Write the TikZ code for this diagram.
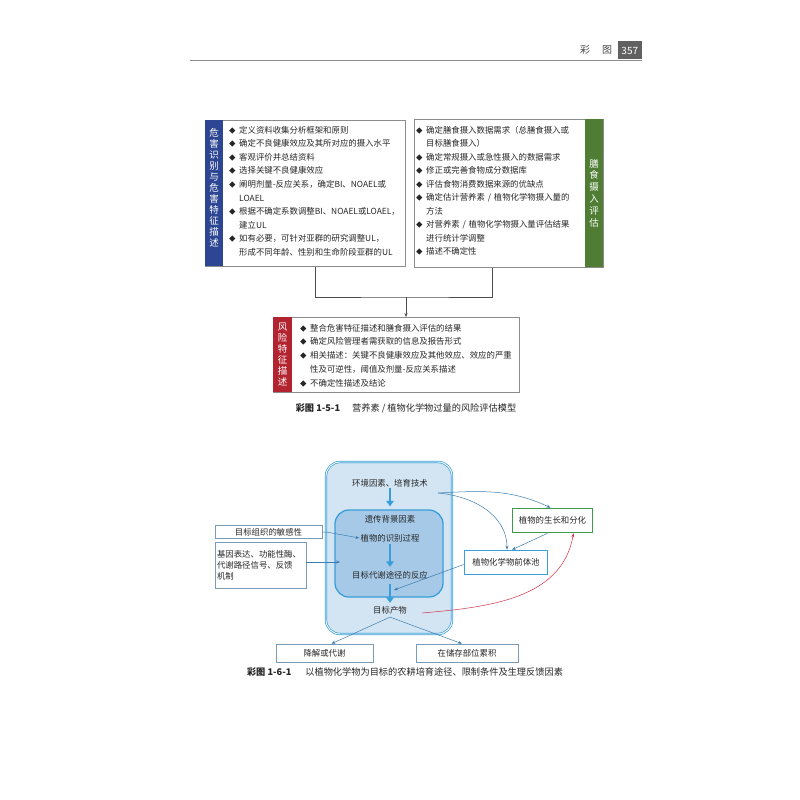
\documentclass[tikz,border=0pt]{standalone}
\usepackage{fontspec}
\setmainfont{Noto Sans CJK SC}
\usetikzlibrary{arrows.meta}
\definecolor{hblue}{HTML}{2C4693}
\definecolor{hgreen}{HTML}{4F7D33}
\definecolor{hred}{HTML}{B22430}
\definecolor{lblue}{HTML}{D3E5F3}
\definecolor{mblue}{HTML}{A5C9E7}
\definecolor{bblue}{HTML}{3A9EDB}
\definecolor{gframe}{HTML}{8C8C8C}
\definecolor{ggreen}{HTML}{3F9A50}
\definecolor{tblue}{HTML}{3D7DB0}
\definecolor{sbox}{HTML}{7A9BB8}
\definecolor{rcurve}{HTML}{D2334C}
\definecolor{txt}{HTML}{262626}
\newcommand\bul{\makebox[10pt][l]{\fontsize{6.5}{6.5}\selectfont ◆}}
\newcommand\cnt{\hspace*{10pt}}
\begin{document}
\begin{tikzpicture}[x=1pt,y=-1pt,
  every node/.style={text=txt},
  fs/.style={font=\fontsize{8.4}{10}\selectfont},
  capfs/.style={font=\fontsize{9.2}{10}\selectfont},
  frame/.style={draw=gframe,line width=0.6pt,inner sep=0pt,anchor=north west},
  vbar/.style={inner sep=0pt,anchor=north west},
  vtext/.style={text=white,align=center,inner sep=0pt,font=\fontsize{9.5}{#1}\selectfont},
  body/.style={anchor=base west,inner sep=0pt,align=left,text width=#1},
  conn/.style={draw=black!70,line width=0.5pt},
  fat/.style={draw=bblue,line width=2.6pt,-{Triangle[width=7.5pt,length=5.5pt]}},
  thin/.style={draw=tblue,line width=0.5pt,-{Stealth[length=4pt,width=3pt]}},
  sbx/.style={draw=sbox,line width=0.6pt,inner sep=0pt,fs},
  lbl/.style={inner sep=0pt,fs},
]
\useasboundingbox[fill=white] (0,0) rectangle (800,800);

% ---------- page header ----------
\draw[black!45,line width=0.6pt] (190,60) -- (642,60);
\node[fill=black!62,text=white,minimum width=24pt,minimum height=18pt,inner sep=0pt,anchor=south east,font=\fontsize{10}{10}\selectfont] (pg) at (642,59.7) {357};
\node[anchor=center,inner sep=0pt,font=\fontsize{10}{10}\selectfont,text=black!70] (hdr) at (596,50) {彩\hspace{12pt}图};

% ---------- figure 1-5-1 ----------
\node[frame,minimum width=200pt,minimum height=146pt] (lframe) at (205,120) {};
\node[vbar,fill=hblue,minimum width=18pt,minimum height=146pt] (lbar) at (205,120) {};
\node[vtext=11pt] (lbartext) at (214,188) {危\\害\\识\\别\\与\\危\\害\\特\\征\\描\\述};
\node[body=176pt,font=\fontsize{8.4}{13.6}\selectfont] (ltext) at (229,133) {%
\bul 定义资料收集分析框架和原则\\
\bul 确定不良健康效应及其所对应的摄入水平\\
\bul 客观评价并总结资料\\
\bul 选择关键不良健康效应\\
\bul 阐明剂量-反应关系，确定BI、NOAEL或\\
\cnt LOAEL\\
\bul 根据不确定系数调整BI、NOAEL或LOAEL，\\
\cnt 建立UL\\
\bul 如有必要，可针对亚群的研究调整UL，\\
\cnt 形成不同年龄、性别和生命阶段亚群的UL};

\node[frame,minimum width=189pt,minimum height=148pt] (rframe) at (414,119) {};
\node[vbar,fill=hgreen,minimum width=18pt,minimum height=148pt] (rbar) at (585,119) {};
\node[vtext=11.8pt] (rbartext) at (594,193) {膳\\食\\摄\\入\\评\\估};
\node[body=170pt,font=\fontsize{8.4}{13.55}\selectfont] (rtext) at (416,133) {%
\bul 确定膳食摄入数据需求（总膳食摄入或\\
\cnt 目标膳食摄入）\\
\bul 确定常规摄入或急性摄入的数据需求\\
\bul 修正或完善食物成分数据库\\
\bul 评估食物消费数据来源的优缺点\\
\bul 确定估计营养素 / 植物化学物摄入量的\\
\cnt 方法\\
\bul 对营养素 / 植物化学物摄入量评估结果\\
\cnt 进行统计学调整\\
\bul 描述不确定性};

\node[frame,minimum width=246pt,minimum height=75pt] (bframe) at (273,317) {};
\node[vbar,fill=hred,minimum width=19pt,minimum height=75pt] (bbar) at (273,317) {};
\node[vtext=11pt] (bbartext) at (282.5,355) {风\\险\\特\\征\\描\\述};
\node[body=215pt,font=\fontsize{8.4}{13.75}\selectfont] (btext) at (300,331) {%
\bul 整合危害特征描述和膳食摄入评估的结果\\
\bul 确定风险管理者需获取的信息及报告形式\\
\bul 相关描述：关键不良健康效应及其他效应、效应的严重\\
\cnt 性及可逆性，阈值及剂量-反应关系描述\\
\bul 不确定性描述及结论};

\coordinate (merge) at (406,297);
\draw[conn] ([xshift=10pt]lframe.south) |- (merge) -| ([xshift=-17pt]rframe.south);
\draw[conn,-{Stealth[length=4pt,width=3pt]}] (merge) -- (merge |- bframe.north);

\node[capfs,anchor=center,inner sep=0pt] (cap1) at (406,408) {{\bfseries 彩图 1-5-1}\hspace{12pt}营养素 / 植物化学物过量的风险评估模型};

% ---------- figure 1-6-1 ----------
\node[draw=bblue,double=white,double distance=0.9pt,line width=0.7pt,fill=lblue,rounded corners=14pt,minimum width=126pt,minimum height=172pt,inner sep=0pt] (outer) at (389,548) {};
\node[draw=bblue,line width=1.3pt,fill=mblue,rounded corners=14pt,minimum width=108pt,minimum height=87pt,inner sep=0pt] (inner) at (389,553.5) {};

\node[lbl] (env) at (390,483) {环境因素、培育技术};
\node[lbl] (gen) at (390,519) {遗传背景因素};
\node[lbl] (rec) at (390,538) {植物的识别过程};
\node[lbl] (resp) at (390,575) {目标代谢途径的反应};
\node[lbl] (prod) at (390,610) {目标产物};

\draw[fat] ([yshift=-1pt]env.south) -- ([yshift=3pt]inner.north -| env.south);
\draw[fat] ([yshift=-2pt]rec.south) -- ([yshift=4pt]resp.north);
\draw[fat] ([yshift=-5pt]resp.south) -- ([yshift=3pt]prod.north);

\node[sbx,minimum width=107pt,minimum height=12.5pt] (sens) at (268.5,532) {目标组织的敏感性};
\node[sbx,minimum width=91pt,minimum height=46pt,align=left,text width=87pt,font=\fontsize{8.4}{11}\selectfont] (gene) at (260.5,565) {基因表达、功能性酶、\\代谢路径信号、反馈\\机制};

\node[lbl,draw=ggreen,line width=1.6pt,minimum width=80pt,minimum height=24pt,fill=white] (growth) at (552.5,520.5) {植物的生长和分化};
\node[lbl,draw=bblue,line width=1.6pt,minimum width=83pt,minimum height=24pt,fill=white] (pool) at (506,562.5) {植物化学物前体池};

\node[sbx,minimum width=97pt,minimum height=18pt] (deg) at (324.5,653) {降解或代谢};
\node[sbx,minimum width=102pt,minimum height=18pt] (store) at (467,653) {在储存部位累积};

\coordinate (src) at (438,493);
\coordinate (hit) at (394,590);
\coordinate (rsrc) at (422,613);

\draw[thin] (sens.east) -- ++(4,0) -- ([xshift=-1pt]rec.west);
\draw[thin] (gene.east |- 0,562) -- (340,562);
\draw[thin] (src) to[out=3,in=155] ([xshift=-2pt]growth.north);
\draw[thin] (src) to[out=-5,in=90] ([xshift=1pt]pool.north);
\draw[thin] ([xshift=-5pt]growth.south) -- ([xshift=6pt]pool.north);
\draw[thin] ([yshift=-2pt]pool.west) -- (hit);
\draw[draw=rcurve,line width=0.5pt,-{Stealth[length=4pt,width=3pt]}] (rsrc) to[out=5,in=-100] ([xshift=21pt]growth.south);
\draw[thin] ([yshift=-3pt]prod.south) -- ([xshift=7pt]deg.north);
\draw[thin] ([yshift=-3pt]prod.south) -- ([xshift=-5pt]store.north);

\node[capfs,anchor=center,inner sep=0pt] (cap2) at (405,672) {{\bfseries 彩图 1-6-1}\hspace{14pt}以植物化学物为目标的农耕培育途径、限制条件及生理反馈因素};
\end{tikzpicture}
\end{document}
